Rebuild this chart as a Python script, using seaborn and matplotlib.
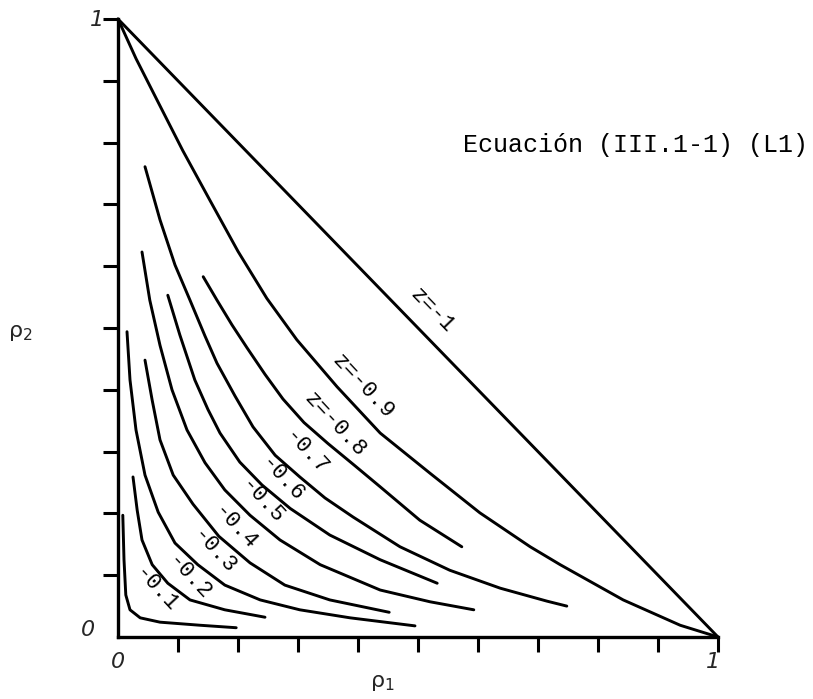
import numpy as np
import pandas as pd
import matplotlib
matplotlib.use("Agg")
import matplotlib.pyplot as plt
import seaborn as sns

# ---- data (rho1, rho2) ----
z_levels = ["-1", "-0.9", "-0.8", "-0.7", "-0.6", "-0.5", "-0.4", "-0.3", "-0.2", "-0.1"]

rho1_z10 = [0.0, 1.0]
rho2_z10 = [1.0, 0.0]

rho1_z09 = [0.0, 0.030, 0.065, 0.108, 0.153, 0.200, 0.248, 0.298, 0.365, 0.437, 0.520, 0.603, 0.687, 0.737, 0.842, 0.937, 1.0]
rho2_z09 = [1.0, 0.936, 0.869, 0.787, 0.707, 0.624, 0.548, 0.481, 0.405, 0.330, 0.265, 0.201, 0.146, 0.117, 0.060, 0.019, 0.0]

rho1_z08 = [0.142, 0.165, 0.190, 0.215, 0.245, 0.275, 0.310, 0.350, 0.395, 0.437, 0.503, 0.573]
rho2_z08 = [0.583, 0.545, 0.505, 0.468, 0.425, 0.385, 0.347, 0.313, 0.277, 0.243, 0.189, 0.146]

rho1_z07 = [0.045, 0.070, 0.095, 0.120, 0.145, 0.165, 0.195, 0.225, 0.262, 0.303, 0.345, 0.392, 0.470, 0.553, 0.637, 0.715, 0.748]
rho2_z07 = [0.761, 0.675, 0.602, 0.545, 0.487, 0.443, 0.390, 0.340, 0.294, 0.259, 0.225, 0.194, 0.146, 0.108, 0.079, 0.058, 0.050]

rho1_z06 = [0.083, 0.103, 0.128, 0.150, 0.170, 0.203, 0.240, 0.287, 0.353, 0.437, 0.532]
rho2_z06 = [0.553, 0.489, 0.416, 0.368, 0.330, 0.283, 0.246, 0.208, 0.165, 0.125, 0.087]

rho1_z05 = [0.040, 0.053, 0.070, 0.090, 0.115, 0.145, 0.178, 0.220, 0.270, 0.337, 0.437, 0.520, 0.593]
rho2_z05 = [0.623, 0.545, 0.472, 0.400, 0.335, 0.282, 0.238, 0.197, 0.157, 0.117, 0.076, 0.057, 0.044]

rho1_z04 = [0.045, 0.057, 0.070, 0.092, 0.125, 0.168, 0.220, 0.278, 0.353, 0.452]
rho2_z04 = [0.448, 0.383, 0.319, 0.262, 0.215, 0.163, 0.120, 0.084, 0.060, 0.040]

rho1_z03 = [0.015, 0.020, 0.030, 0.045, 0.067, 0.095, 0.133, 0.178, 0.237, 0.303, 0.387, 0.495]
rho2_z03 = [0.494, 0.416, 0.335, 0.262, 0.202, 0.152, 0.117, 0.084, 0.060, 0.044, 0.031, 0.018]

rho1_z02 = [0.025, 0.032, 0.040, 0.057, 0.083, 0.120, 0.178, 0.245]
rho2_z02 = [0.259, 0.205, 0.157, 0.117, 0.087, 0.060, 0.044, 0.032]

rho1_z01 = [0.008, 0.010, 0.013, 0.020, 0.037, 0.070, 0.137, 0.197]
rho2_z01 = [0.197, 0.125, 0.068, 0.044, 0.031, 0.024, 0.019, 0.015]

# label texts and anchor points (data coords)
label_texts = ["z=-1", "z=-0.9", "z=-0.8", "-0.7", "-0.6", "-0.5", "-0.4", "-0.3", "-0.2", "-0.1"]
label_x = [0.523, 0.408, 0.362, 0.312, 0.273, 0.240, 0.195, 0.160, 0.117, 0.062]
label_y = [0.529, 0.405, 0.343, 0.298, 0.254, 0.218, 0.176, 0.138, 0.095, 0.076]

title_text = "Ecuación (III.1-1) (L1)"
x_ticks = [0.1, 0.2, 0.3, 0.4, 0.5, 0.6, 0.7, 0.8, 0.9, 1.0]
y_ticks = [0.1, 0.2, 0.3, 0.4, 0.5, 0.6, 0.7, 0.8, 0.9, 1.0]

xs = [rho1_z10, rho1_z09, rho1_z08, rho1_z07, rho1_z06, rho1_z05, rho1_z04, rho1_z03, rho1_z02, rho1_z01]
ys = [rho2_z10, rho2_z09, rho2_z08, rho2_z07, rho2_z06, rho2_z05, rho2_z04, rho2_z03, rho2_z02, rho2_z01]

frames = []
for z, xv, yv in zip(z_levels, xs, ys):
    frames.append(pd.DataFrame({"rho1": xv, "rho2": yv, "z": z}))
df = pd.concat(frames, ignore_index=True)

# ---- figure ----
sns.set_theme(style="white")
plt.rcParams["font.family"] = ["Liberation Mono", "DejaVu Sans"]

fig = plt.figure(figsize=(8.13, 6.99), dpi=100)
ax = fig.add_axes([118 / 813, 62 / 699, 600 / 813, 618 / 699])

sns.lineplot(data=df, x="rho1", y="rho2", units="z", estimator=None, sort=False,
             color="black", lw=2.1, ax=ax, legend=False)
for ln in ax.lines:
    ln.set_clip_on(False)
    ln.set_solid_capstyle("round")
    ln.set_solid_joinstyle("round")

ax.set_xlim(0, 1)
ax.set_ylim(0, 1)
for s in ["top", "right"]:
    ax.spines[s].set_visible(False)
for s in ["left", "bottom"]:
    ax.spines[s].set_linewidth(2.4)
    ax.spines[s].set_color("black")

ax.set_xticks(x_ticks)
ax.set_yticks(y_ticks)
ax.tick_params(direction="out", length=11, width=2.2, color="black",
               labelbottom=False, labelleft=False, bottom=True, left=True)
ax.set_xlabel("")
ax.set_ylabel("")

# curve labels
for t, lx, ly in zip(label_texts, label_x, label_y):
    rot = -46 if t == "z=-1" else -47
    ax.text(lx, ly, t, rotation=rot, rotation_mode="anchor", ha="center", va="center",
            fontsize=16, color="black")

# title
ax.text(0.575, 0.796, title_text, ha="left", va="center", fontsize=18, color="black")

# axis end labels
for tx, ty, tt in [(0.0, -0.04, "0"), (0.992, -0.04, "1"), (-0.05, 0.011, "0"), (-0.035, 0.998, "1")]:
    ax.text(tx, ty, tt, ha="center", va="center", fontsize=16, style="italic",
            family=["DejaVu Sans"], clip_on=False)

# axis titles
ax.text(0.44, -0.074, r"ρ$_{1}$", ha="center", va="center", fontsize=16,
        family=["DejaVu Sans"], clip_on=False)
ax.text(-0.163, 0.492, r"ρ$_{2}$", ha="center", va="center", fontsize=16,
        family=["DejaVu Sans"], clip_on=False)

fig.savefig("out.png", dpi=100)
